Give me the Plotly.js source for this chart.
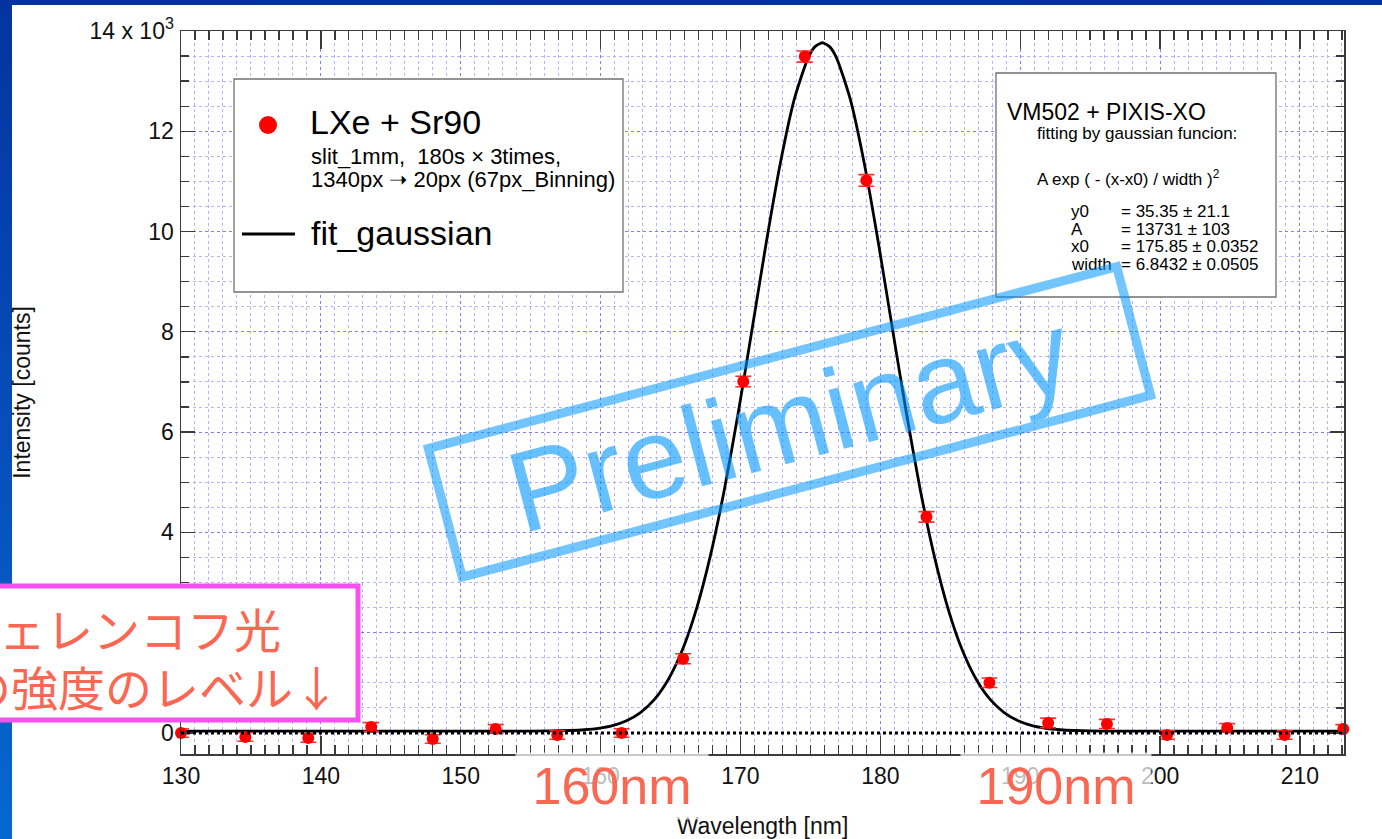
<!DOCTYPE html>
<html>
<head>
<meta charset="utf-8">
<script src="https://cdn.plot.ly/plotly-3.0.1.min.js"></script>
<style>
  html, body { margin:0; padding:0; width:1382px; height:839px; overflow:hidden;
    background: linear-gradient(180deg, #0433a0 0%, #0650bb 55%, #0668cf 100%); }
  #chart { position:absolute; left:0; top:0; width:1382px; height:839px; }
</style>
</head>
<body>
<div id="chart"></div>
<script>
// ---- data ----
const wavelength = [130.0, 134.6, 139.1, 143.6, 148.0, 152.5, 156.9, 161.5, 165.9, 170.2,
                    174.6, 179.0, 183.3, 187.8, 192.0, 196.2, 200.5, 204.8, 208.9, 213.1];
const intensity  = [0, -80, -100, 120, -120, 80, -40, 0, 1480, 7010,
                    13490, 11020, 4310, 1000, 200, 180, -40, 100, -40, 80];
const intensityErr = [85, 85, 85, 85, 85, 85, 85, 85, 100, 105,
                      110, 115, 105, 95, 95, 90, 85, 85, 85, 85];

// fitted gaussian curve
const fitX = [130, 140, 150, 155, 157.85, 158.85, 159.85, 160.85, 161.85, 162.85, 163.85,
              164.85, 165.85, 166.85, 167.85, 168.85, 169.85, 170.85, 171.85, 172.85, 173.85,
              174.85, 175.35, 175.85, 176.35, 176.85, 177.85, 178.85, 179.85, 180.85, 181.85, 182.85, 183.85,
              184.85, 185.85, 186.85, 187.85, 188.85, 189.85, 190.85, 191.85, 192.85, 193.85,
              196, 200, 210, 213.15];
const fitY = [35, 35, 35, 36, 49, 64, 93, 147, 244, 407, 669,
              1072, 1658, 2470, 3536, 4857, 6401, 8085, 9792, 11364, 12642,
              13476, 13693, 13766, 13693, 13476, 12642, 11364, 9792, 8085, 6401, 4857, 3536,
              2470, 1658, 1072, 669, 407, 244, 147, 93, 64, 49,
              36, 35, 35, 35];

const xTickVals = [130, 140, 150, 160, 170, 180, 190, 200, 210];
const xTickText = ['130', '140', '150', '160', '170', '180', '190', '200', '210'];
const yTickVals = [0, 2000, 4000, 6000, 8000, 10000, 12000, 14000];
const yTickText = ['0', '2', '4', '6', '8', '10', '12', '14 x 10<sup>3</sup>'];

const seriesName = 'LXe + Sr90';
const seriesNote1 = 'slit_1mm,&nbsp; 180s × 3times,';
const seriesNote2 = '1340px ➝ 20px (67px_Binning)';
const fitName = 'fit_gaussian';
const fitTitle = 'VM502 + PIXIS-XO';
const fitSub = 'fitting by gaussian funcion:';
const fitFormula = 'A exp ( - (x-x0) / width )<sup>2</sup>';
const fitParamNames = ['y0', 'A', 'x0', 'width'];
const fitParamValues = ['= 35.35 ± 21.1', '= 13731 ± 103', '= 175.85 ± 0.0352', '= 6.8432 ± 0.0505'];

const noteLines = ['チェレンコフ光', 'の強度のレベル↓'];
const markLabels = ['160nm', '190nm'];
const stampText = 'Preliminary';

// ---- layout geometry (pixels) ----
const Wd = 1382, Ht = 839, L = 181, R = 1344, T = 31, B = 754;
const px = X => (X - L) / (R - L);
const py = Y => (B - Y) / (B - T);
const FONT = 'Liberation Sans, Arial, Helvetica, sans-serif';

function ann(text, X, Y, size, extra) {
  return Object.assign({
    text: text, xref: 'paper', yref: 'paper', x: px(X), y: py(Y),
    xanchor: 'left', yanchor: 'middle', showarrow: false,
    font: { family: FONT, size: size, color: '#000' }
  }, extra || {});
}

const traces = [
  {
    x: fitX, y: fitY, type: 'scatter', mode: 'lines', name: fitName,
    line: { color: '#000', width: 2.8, shape: 'spline', smoothing: 0.6 },
    hoverinfo: 'skip'
  },
  {
    x: wavelength, y: intensity, type: 'scatter', mode: 'markers', name: seriesName,
    marker: { color: '#ff0000', size: 12 },
    error_y: { type: 'data', array: intensityErr, visible: true, color: '#ff3030', thickness: 1.6, width: 8 },
    cliponaxis: false
  }
];

const annotations = [
  // legend (left box)
  ann(seriesName, 308, 122, 34),
  ann(seriesNote1, 309, 156, 22),
  ann(seriesNote2, 309, 179, 22),
  ann(fitName, 309, 233, 34),
  // fit info (right box)
  ann(fitTitle, 1005, 112, 23),
  ann(fitSub, 1035, 133, 17),
  ann(fitFormula, 1035, 178, 17),
];
fitParamNames.forEach((n, i) => {
  const yy = [211, 229, 246, 264][i];
  annotations.push(ann(n, 1069, yy, 17));
  annotations.push(ann(fitParamValues[i], 1119, yy, 17));
});
// Japanese note
annotations.push(ann(noteLines[0], -50, 627, 47, { font: { family: 'Noto Sans CJK JP', size: 47, color: '#fb6752' } }));
annotations.push(ann(noteLines[1], -38, 685, 47, { font: { family: 'Noto Sans CJK JP', size: 47, color: '#fb6752' } }));
// wavelength marks
annotations.push(ann(markLabels[0], 612, 786, 52, {
  xanchor: 'center', width: 190, height: 64, bgcolor: 'rgba(255,255,255,0.72)',
  font: { family: FONT, size: 52, color: '#fb6752' }
}));
annotations.push(ann(markLabels[1], 1056, 786, 52, {
  xanchor: 'center', width: 188, height: 64, bgcolor: 'rgba(255,255,255,0.72)',
  font: { family: FONT, size: 52, color: '#fb6752' }
}));
// Preliminary stamp
annotations.push(ann(stampText, 789, 422, 115, {
  xanchor: 'center', yanchor: 'middle', textangle: -14.8,
  width: 703, height: 124, borderpad: 0, borderwidth: 9,
  bordercolor: 'rgba(0,150,255,0.55)',
  font: { family: FONT, size: 115, color: 'rgba(0,150,255,0.6)' }
}));

const shapes = [
  // white slide panel
  { type: 'rect', xref: 'paper', yref: 'paper', x0: px(12), x1: px(1400), y0: py(860), y1: py(5),
    fillcolor: '#ffffff', line: { width: 0 }, layer: 'below' },
  // zero reference line (dotted)
  { type: 'line', xref: 'paper', yref: 'y', x0: 0, x1: 1, y0: 0, y1: 0,
    line: { color: '#000', width: 3, dash: 'dot' }, layer: 'above' },
  // legend box
  { type: 'rect', xref: 'paper', yref: 'paper', x0: px(234), x1: px(623), y0: py(292), y1: py(79),
    fillcolor: '#ffffff', line: { color: '#707070', width: 1.3 }, layer: 'above' },
  { type: 'circle', xref: 'paper', yref: 'paper', xsizemode: 'pixel', ysizemode: 'pixel',
    xanchor: px(268), yanchor: py(125), x0: -9, x1: 9, y0: -9, y1: 9,
    fillcolor: '#ff0000', line: { width: 0 }, layer: 'above' },
  { type: 'line', xref: 'paper', yref: 'paper', x0: px(242), x1: px(295), y0: py(234), y1: py(234),
    line: { color: '#000', width: 3 }, layer: 'above' },
  // fit info box
  { type: 'rect', xref: 'paper', yref: 'paper', x0: px(996), x1: px(1276), y0: py(297), y1: py(73),
    fillcolor: '#ffffff', line: { color: '#707070', width: 1.3 }, layer: 'above' },
  // magenta note box
  { type: 'rect', xref: 'paper', yref: 'paper', x0: px(-10), x1: px(358), y0: py(720), y1: py(586),
    fillcolor: '#ffffff', line: { color: '#f650ee', width: 5 }, layer: 'above' }
];

const axisCommon = {
  showline: true, linecolor: '#3a3a3a', linewidth: 1.5, mirror: 'allticks',
  ticks: 'inside', tickcolor: '#3a3a3a', tickwidth: 1.3,
  showgrid: true, gridcolor: '#8080f0', griddash: 'dot', gridwidth: 1,
  zeroline: false,
  tickfont: { family: FONT, size: 23, color: '#111' }
};

const layout = {
  width: Wd, height: Ht,
  margin: { l: L, r: Wd - R, t: T, b: Ht - B, pad: 0 },
  paper_bgcolor: 'rgba(0,0,0,0)', plot_bgcolor: '#ffffff',
  showlegend: false,
  xaxis: Object.assign({}, axisCommon, {
    range: [130, 213.15], tickmode: 'array', tickvals: xTickVals, ticktext: xTickText,
    ticklen: 18, ticklabelstandoff: 1,
    minor: { dtick: 1, ticks: 'inside', ticklen: 9, tickcolor: '#3a3a3a', showgrid: true,
             gridcolor: '#b4b4ff', griddash: 'dot', gridwidth: 1 },
    title: { text: 'Wavelength [nm]', standoff: 34, font: { family: FONT, size: 23, color: '#111' } },
    automargin: false
  }),
  yaxis: Object.assign({}, axisCommon, {
    range: [-420, 14000], tickmode: 'array', tickvals: yTickVals, ticktext: yTickText,
    ticklen: 14, ticklabelstandoff: 1,
    minor: { dtick: 500, tick0: 0, ticks: 'inside', ticklen: 8, tickcolor: '#3a3a3a', showgrid: true,
             gridcolor: '#b4b4ff', griddash: 'dot', gridwidth: 1 },
    title: { text: 'Intensity [counts]', standoff: 52, font: { family: FONT, size: 23, color: '#111' } },
    automargin: false
  }),
  shapes: shapes,
  annotations: annotations
};

Plotly.newPlot('chart', traces, layout, { displayModeBar: false, staticPlot: true });
</script>
</body>
</html>
